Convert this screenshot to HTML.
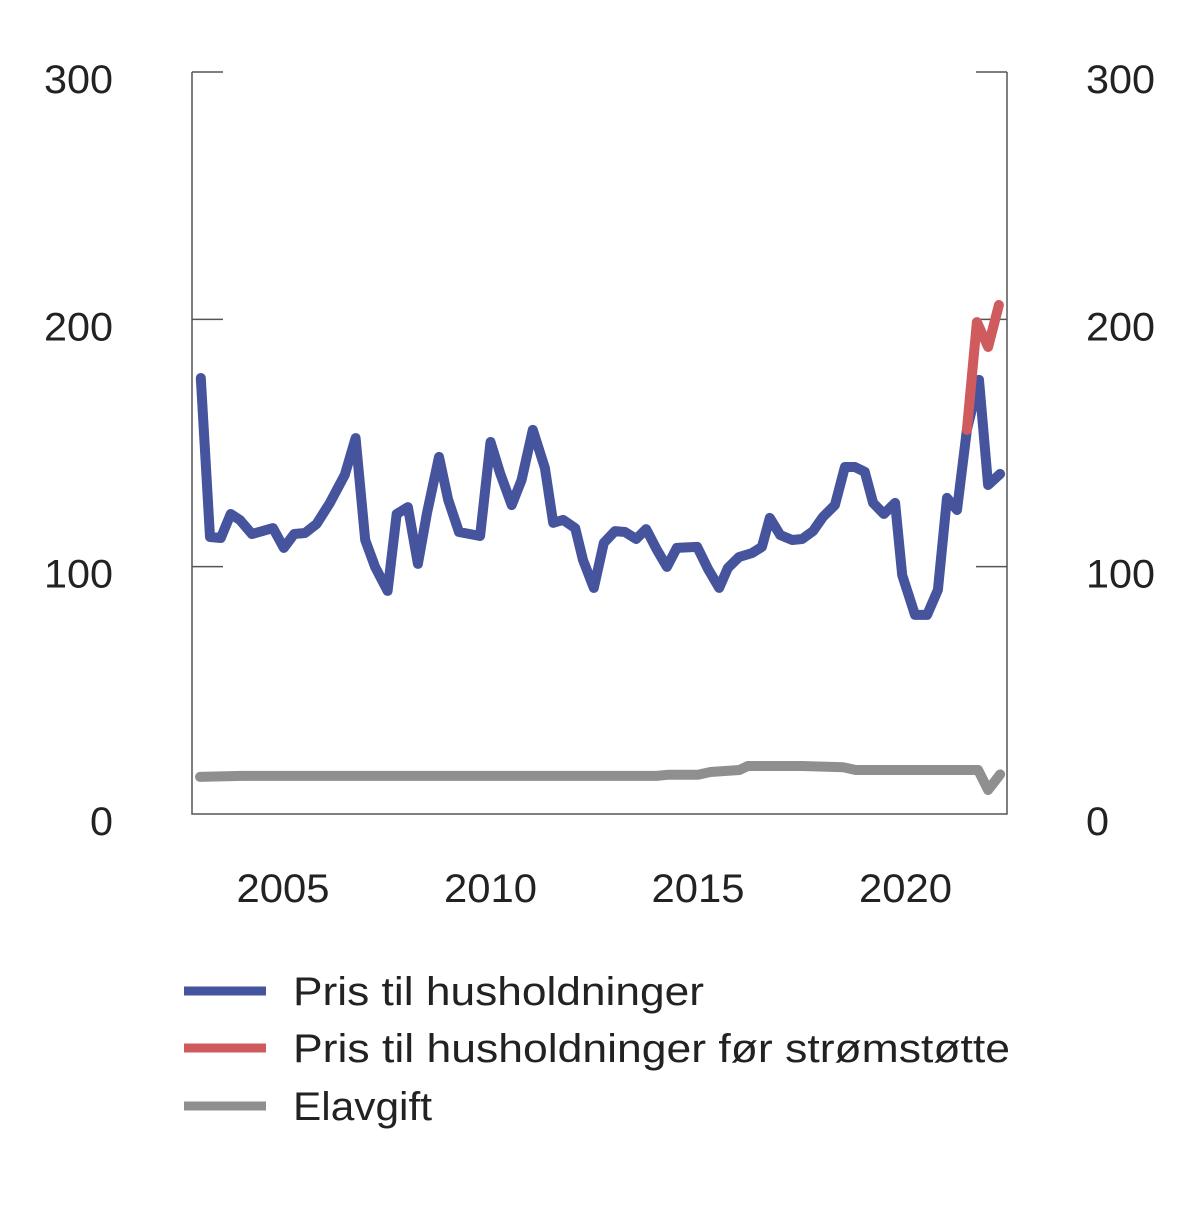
<!DOCTYPE html>
<html><head><meta charset="utf-8"><style>
body{margin:0;background:#fff;width:1200px;height:1215px;overflow:hidden}
text{font-family:"Liberation Sans","DejaVu Sans",sans-serif;fill:#222}
</style></head><body>
<svg id="chart" width="1200" height="1215" xmlns="http://www.w3.org/2000/svg"></svg>
<script>
const blueYears=[2003.02,2003.24,2003.50,2003.74,2003.96,2004.25,2004.76,2005.02,2005.27,2005.53,2005.81,2006.13,2006.49,2006.75,2006.98,2007.22,2007.52,2007.74,2008.01,2008.25,2008.47,2008.76,2008.98,2009.24,2009.75,2010.00,2010.23,2010.51,2010.75,2011.02,2011.31,2011.51,2011.75,2012.04,2012.23,2012.49,2012.73,2013.00,2013.24,2013.51,2013.75,2014.01,2014.25,2014.49,2014.98,2015.24,2015.51,2015.72,2015.99,2016.30,2016.54,2016.73,2016.98,2017.27,2017.51,2017.77,2018.01,2018.30,2018.54,2018.78,2019.02,2019.22,2019.48,2019.75,2019.92,2020.23,2020.52,2020.78,2021.00,2021.24,2021.48,2021.77,2021.99,2022.28];
const blueValues=[176.3,112.0,111.6,121.3,118.9,113.2,115.6,107.6,113.2,113.6,117.3,125.8,137.1,152.0,110.8,99.9,90.2,121.3,124.1,101.1,121.7,144.4,127.0,114.0,112.4,150.4,137.9,124.9,135.1,155.3,139.9,117.7,118.9,115.6,102.7,91.4,109.6,114.4,114.0,111.2,115.2,106.8,99.9,107.6,108.0,99.1,91.4,99.5,103.9,105.5,108.0,119.7,112.8,110.8,111.2,114.4,120.1,124.9,140.3,140.3,138.3,125.8,121.3,125.8,96.6,80.5,80.5,90.6,127.8,122.9,155.3,175.5,133.0,137.5];
const redYears=[2021.48,2021.72,2021.99,2022.25];
const redValues=[155.3,198.9,188.8,205.8];
const greyYears=[2003.0,2004.0,2014.0,2014.3,2015.0,2015.3,2016.0,2016.2,2017.5,2018.5,2018.8,2021.75,2021.99,2022.28];
const greyValues=[15.0,15.4,15.4,15.9,15.9,17.0,17.8,19.4,19.4,18.9,17.8,17.8,9.7,16.0];
const yTicks=[0,100,200,300];
const xTickYears=[2005,2010,2015,2020];

const NS="http://www.w3.org/2000/svg";
const svg=document.getElementById('chart');
const L=192,R=1007,T=72,B=814;
const xs=t=>200+(t-2003)*41.5;
const ys=v=>B-(v/300)*(B-T);
function mk(tag,attrs){const e=document.createElementNS(NS,tag);for(const k in attrs)e.setAttribute(k,attrs[k]);svg.appendChild(e);return e;}

const frame=mk('path',{d:`M${L},${T}V${B}H${R}V${T}`,fill:'none',stroke:'#555','stroke-width':1.5});



yTicks.forEach(v=>{
  const y=ys(v);
  if(v>0){
    const t1=mk('line',{x1:L,x2:L+31,y1:y,y2:y,stroke:'#555','stroke-width':1.5});
    
    
    const t2=mk('line',{x1:R-31,x2:R,y1:y,y2:y,stroke:'#555','stroke-width':1.5});
    
    
  }
  const w=String(v).length*23;
  const a=mk('text',{x:113,y:y+21,'text-anchor':'end','font-size':40,textLength:w,lengthAdjust:'spacingAndGlyphs'});
  a.textContent=v;
  
  
  const b=mk('text',{x:1086,y:y+21,'text-anchor':'start','font-size':40,textLength:w,lengthAdjust:'spacingAndGlyphs'});
  b.textContent=v;
  
  
});
xTickYears.forEach(yr=>{
  const t=mk('text',{x:xs(yr),y:902,'text-anchor':'middle','font-size':40,textLength:93,lengthAdjust:'spacingAndGlyphs'});
  t.textContent=yr;
  
  
});
function line(years,vals,color,name){
  const d=years.map((t,i)=>(i?'L':'M')+xs(t).toFixed(1)+','+ys(vals[i]).toFixed(1)).join('');
  const p=mk('path',{d:d,fill:'none',stroke:color,'stroke-width':10,'stroke-linejoin':'round','stroke-linecap':'round'});
  
  
}
line(greyYears,greyValues,'#8f8f8f','elavgift-line');
line(blueYears,blueValues,'#46549e','household-price-line');
line(redYears,redValues,'#cf5b5e','price-before-support-line');

const legend=[['#46549e','Pris til husholdninger',991,411],['#cf5b5e','Pris til husholdninger før strømstøtte',1048,717],['#8f8f8f','Elavgift',1106,139]];
legend.forEach(l=>{
  const s=mk('line',{x1:184,x2:266,y1:l[2],y2:l[2],stroke:l[0],'stroke-width':9});
  
  
  const t=mk('text',{x:293,y:l[2]+14,'font-size':40,textLength:l[3],lengthAdjust:'spacingAndGlyphs'});
  t.textContent=l[1];
  
  
});
</script>
</body></html>
